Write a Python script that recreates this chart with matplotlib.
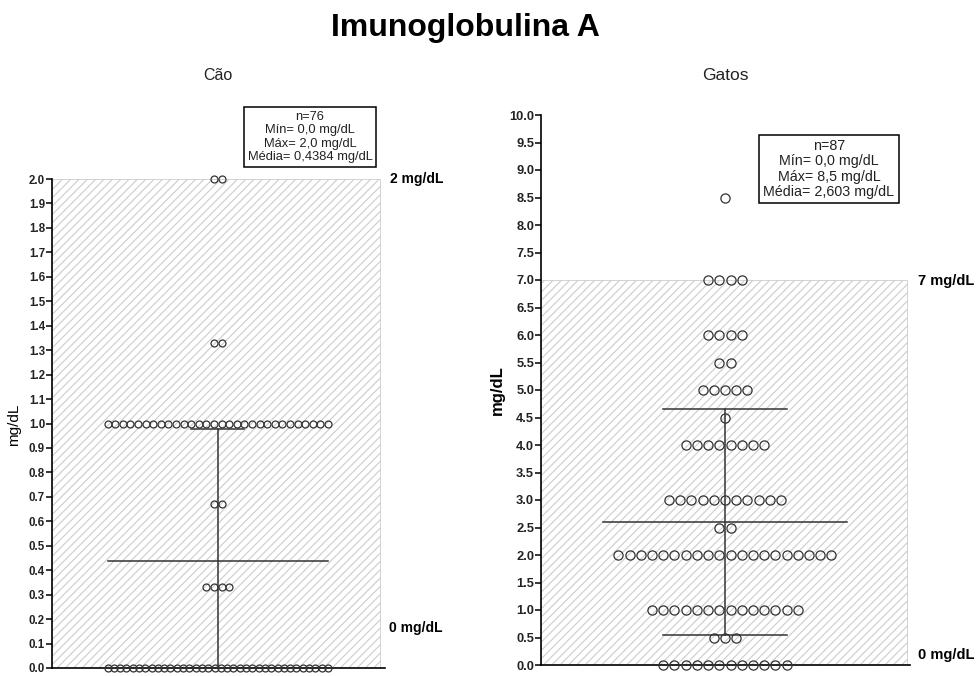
import numpy as np
import matplotlib
matplotlib.use("Agg")
import matplotlib.pyplot as plt
from matplotlib.patches import Rectangle

plt.rcParams['font.family'] = ['Liberation Sans', 'DejaVu Sans']
plt.rcParams['hatch.color'] = '#ababab'
plt.rcParams['hatch.linewidth'] = 0.8

# Dados
cao_valores = [0.0, 0.33, 0.67, 1.0, 1.33, 2.0]
cao_contagens = [36, 4, 2, 30, 2, 2]
cao_media = 0.4384
cao_dp = 0.54
cao_ref = [0, 2]
cao_info = ["n=76", "Mín= 0,0 mg/dL", "Máx= 2,0 mg/dL", "Média= 0,4384 mg/dL"]

gatos_valores = [0.0, 0.5, 1.0, 2.0, 2.5, 3.0, 4.0, 4.5, 5.0, 5.5, 6.0, 7.0, 8.5]
gatos_contagens = [12, 3, 14, 20, 2, 11, 8, 1, 5, 2, 4, 4, 1]
gatos_media = 2.603
gatos_dp = 2.05
gatos_ref = [0, 7]
gatos_info = ["n=87", "Mín= 0,0 mg/dL", "Máx= 8,5 mg/dL", "Média= 2,603 mg/dL"]

cao_ticks = np.round(np.arange(0, 2.01, 0.1), 1)
gatos_ticks = np.arange(0, 10.01, 0.5)


def pontos(valores, contagens, max_span):
    xs, ys = [], []
    for v, n in zip(valores, contagens):
        passo = 1.0 if n <= 1 else min(1.0, max_span / (n - 1))
        off = (np.arange(n) - (n - 1) / 2) * passo
        xs.extend(off)
        ys.extend([v] * n)
    return np.array(xs), np.array(ys)


def painel(ax, valores, contagens, media, dp, ref, xlim, hatch_dir, ticks,
           max_span, msize, meia_media, meia_cap, tick_fs):
    ax.set_xlim(*xlim)
    ax.set_ylim(ticks[0], ticks[-1])
    ax.add_patch(Rectangle((xlim[0], ref[0]), hatch_dir - xlim[0], ref[1] - ref[0],
                           facecolor='white', edgecolor='#cccccc', hatch='////',
                           linewidth=0.6, zorder=0))
    xs, ys = pontos(valores, contagens, max_span)
    ax.plot(xs, ys, 'o', ms=msize, mfc='none', mec='#333333', mew=0.9,
            zorder=3, clip_on=False)
    cor = '#333333'
    ax.plot([-meia_media, meia_media], [media, media], color=cor, lw=1.1, zorder=2)
    ax.plot([0, 0], [media - dp, media + dp], color=cor, lw=1.1, zorder=2)
    for y in (media - dp, media + dp):
        ax.plot([-meia_cap, meia_cap], [y, y], color=cor, lw=1.1, zorder=2)
    ax.set_yticks(ticks)
    ax.set_yticklabels([f"{t:.1f}" for t in ticks], fontweight='bold', fontsize=tick_fs,
                       color='#222222')
    ax.set_xticks([])
    for s in ('top', 'right'):
        ax.spines[s].set_visible(False)
    ax.spines['left'].set_linewidth(1.2)
    ax.spines['bottom'].set_linewidth(1.2)
    ax.tick_params(axis='y', direction='out', length=4, width=1.1, pad=1)
    ax.patch.set_alpha(0)


fig = plt.figure(figsize=(9.79, 6.76), dpi=100)

ax1 = fig.add_axes([52 / 979, 1 - 668 / 676, 333 / 979, 489 / 676])
painel(ax1, cao_valores, cao_contagens, cao_media, cao_dp, cao_ref,
       (-21.8, 22.0), 21.3, cao_ticks, 29, 5.0, 14.5, 3.5, 8.3)

ax2 = fig.add_axes([541 / 979, 1 - 665 / 676, 369 / 979, 550 / 676])
painel(ax2, gatos_valores, gatos_contagens, gatos_media, gatos_dp, gatos_ref,
       (-16.4, 16.5), 16.25, gatos_ticks, 40, 6.6, 10.9, 5.5, 9.3)

fig.text(465 / 979, 1 - 28 / 676, "Imunoglobulina A", ha='center', va='center',
         fontsize=23, fontweight='bold')
fig.text(218 / 979, 1 - 75 / 676, "Cão", ha='center', va='center', fontsize=11.5, color='#222222')
fig.text(725 / 979, 1 - 75 / 676, "Gatos", ha='center', va='center', fontsize=12.5, color='#222222')

fig.text(14 / 979, 1 - 425 / 676, "mg/dL", rotation=90, ha='center', va='center', fontsize=11)
fig.text(497 / 979, 1 - 390 / 676, "mg/dL", rotation=90, ha='center', va='center',
         fontsize=12, fontweight='bold')

fig.text(390 / 979, 1 - 179 / 676, "2 mg/dL", ha='left', va='center', fontsize=10, fontweight='bold')
fig.text(389 / 979, 1 - 628 / 676, "0 mg/dL", ha='left', va='center', fontsize=10, fontweight='bold')
fig.text(918 / 979, 1 - 281 / 676, "7 mg/dL", ha='left', va='center', fontsize=10.5, fontweight='bold')
fig.text(918 / 979, 1 - 655 / 676, "0 mg/dL", ha='left', va='center', fontsize=10.5, fontweight='bold')

fig.text(310 / 979, 1 - 137 / 676, "\n".join(cao_info), ha='center', va='center',
         fontsize=9.3, color='#222222', linespacing=1.15,
         bbox=dict(boxstyle='square,pad=0.3', facecolor='white', edgecolor='black', linewidth=1.1))
fig.text(829 / 979, 1 - 169 / 676, "\n".join(gatos_info), ha='center', va='center',
         fontsize=10.3, color='#222222', linespacing=1.1,
         bbox=dict(boxstyle='square,pad=0.3', facecolor='white', edgecolor='black', linewidth=1.1))

fig.savefig("out.png", dpi=100)
